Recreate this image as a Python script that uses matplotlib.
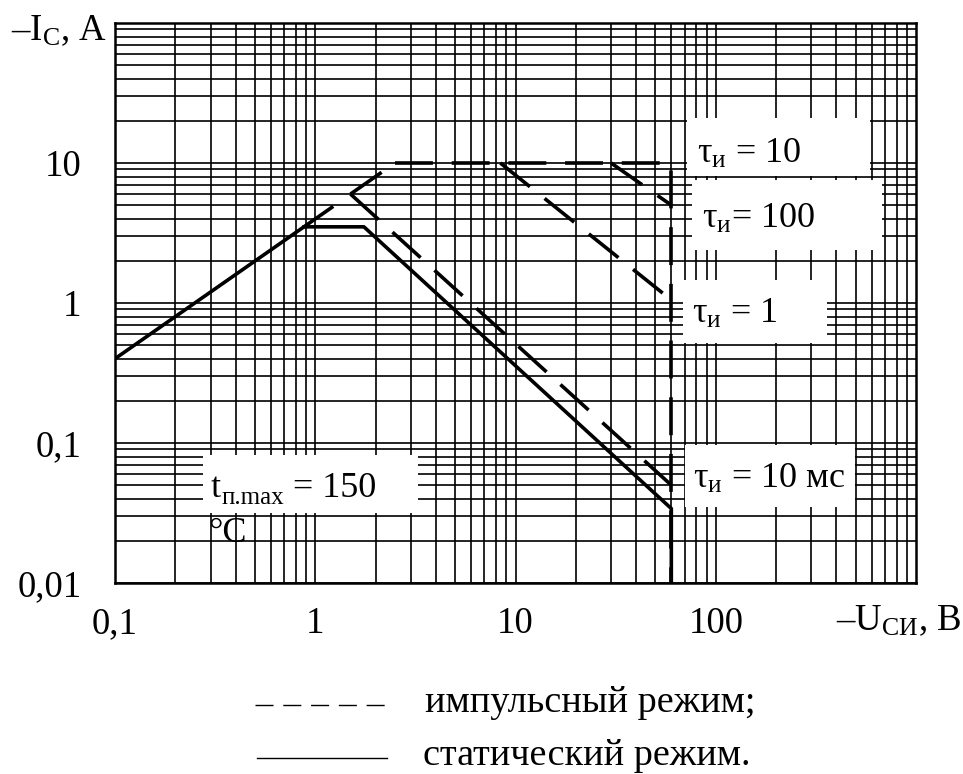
import matplotlib
matplotlib.use("Agg")
import matplotlib.pyplot as plt
from matplotlib.patches import Rectangle
from matplotlib.lines import Line2D

plt.rcParams['font.family'] = ['Liberation Serif', 'DejaVu Serif']
plt.rcParams['mathtext.fontset'] = 'custom'
plt.rcParams['mathtext.rm'] = 'Liberation Serif'
plt.rcParams['mathtext.it'] = 'Liberation Serif:italic'
plt.rcParams['mathtext.bf'] = 'Liberation Serif:bold'

W, H = 963, 774

# --- данные ---
x_ticks = [0.1, 1, 10, 100]
x_labels = ['0,1', '1', '10', '100']
y_ticks = [0.01, 0.1, 1, 10]
y_labels = ['0,01', '0,1', '1', '10']

# общий участок, ограниченный сопротивлением канала
rise_u = [0.1, 1.23]
rise_i = [0.4, 4.9]
# статический режим
static_u = [0.88, 1.75, 60, 60]
static_i = [3.5, 3.5, 0.034, 0.01]
# импульсный режим: огибающая
pulse_u = [2.5, 60, 60]
pulse_i = [10, 10, 0.01]
pulse_rise_u = [1.5, 2.5]
pulse_rise_i = [6.0, 10]
# импульсный режим: спады для разных длительностей
tau10ms_u = [1.5, 60]
tau10ms_i = [6.0, 0.05]
tau_mid_u = [8.4, 60]
tau_mid_i = [10, 1.05]
tau10_u = [30, 60]
tau10_i = [10, 5.0]


def fx(px):
    return px / W


def fy(py):
    return 1 - py / H


fig = plt.figure(figsize=(W / 100, H / 100), dpi=100)
renderer = fig.canvas.get_renderer()


def chain(x, y, parts):
    # кусочки текста подряд: (строка, кегль, сдвиг вниз в пикселях)
    for s, size, dy in parts:
        t = fig.text(fx(x), fy(y + dy), s, fontsize=size, va='baseline')
        x += t.get_window_extent(renderer).width


ax = fig.add_axes([fx(115), fy(583), (916 - 115) / W, (583 - 23) / H])
ax.set_xscale('log')
ax.set_yscale('log')
ax.set_xlim(0.1, 1000)
ax.set_ylim(0.01, 100)

ax.set_axisbelow(True)
ax.grid(True, which='both', color='black', lw=1.2)
for s in ax.spines.values():
    s.set_linewidth(1.8)

ax.set_xticks(x_ticks)
ax.set_xticklabels(x_labels)
ax.set_yticks(y_ticks)
ax.set_yticklabels(y_labels)
ax.tick_params(which='both', length=0)
ax.tick_params(axis='x', labelsize=26.5, pad=17)
ax.tick_params(axis='y', labelsize=26.5, pad=24)

lw = 2.6
dash = (0, (10.5, 5.2))
ax.plot(rise_u, rise_i, color='black', lw=lw, solid_capstyle='butt', zorder=3)
ax.plot(static_u, static_i, color='black', lw=lw, zorder=3)
for u, i in [(pulse_u, pulse_i), (pulse_rise_u, pulse_rise_i),
             (tau10ms_u, tau10ms_i), (tau_mid_u, tau_mid_i), (tau10_u, tau10_i)]:
    ax.plot(u, i, color='black', lw=lw, ls=dash, zorder=3)

# белые подложки под подписями
boxes = [(687, 118, 870, 176), (692, 180, 882, 250), (683, 280, 827, 343),
         (685, 445, 855, 507), (203, 455, 418, 513)]
for x0, y0, x1, y1 in boxes:
    ax.add_patch(Rectangle((fx(x0), fy(y1)), (x1 - x0) / W, (y1 - y0) / H,
                           transform=fig.transFigure, facecolor='white',
                           edgecolor='none', zorder=2))

fs = 26
tau = r'$\mathrm{τ_{и}}$'
fig.text(fx(697), fy(163), tau + ' = 10', fontsize=fs, va='baseline')
fig.text(fx(702), fy(228), tau + '= 100', fontsize=fs, va='baseline')
fig.text(fx(692), fy(323), tau + ' = 1', fontsize=fs, va='baseline')
fig.text(fx(693), fy(488), tau + ' = 10 мс', fontsize=fs, va='baseline')
chain(211, 497, [('t', fs, 0), ('п.max', 18, 7), (' = 150', fs, 0)])
fig.text(fx(208), fy(542), '°C', fontsize=fs, va='baseline')

fig.text(fx(11), fy(40), r'–$\mathrm{I_{C}}$, A', fontsize=26.5, va='baseline')
fig.text(fx(836), fy(630), r'–$\mathrm{U_{CИ}}$, B', fontsize=26.5, va='baseline')

# условные обозначения
fig.add_artist(Line2D([fx(255), fx(385)], [fy(705), fy(705)], color='black',
                      lw=1.0, dashes=(13, 7)))
fig.add_artist(Line2D([fx(257), fx(387)], [fy(758), fy(758)], color='black', lw=1.0))
fig.text(fx(425), fy(703), 'импульсный режим;', fontsize=27.5, va='center')
fig.text(fx(423), fy(756), 'статический режим.', fontsize=27.5, va='center')

fig.savefig('out.png', dpi=100)
